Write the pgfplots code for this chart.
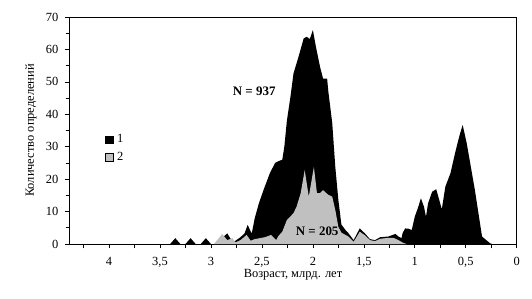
\documentclass[border=0pt]{standalone}
\usepackage{fontspec}
\setmainfont{Liberation Serif}
\usepackage{pgfplots}
\pgfplotsset{compat=1.18}
\definecolor{silv}{HTML}{C0C0C0}
\pgfplotstableread{
x y
4.39 0
3.40 0
3.35 1.8
3.30 0
3.25 0
3.20 1.8
3.15 0
3.10 0
3.05 1.8
3.00 0
2.96 0
2.90 1.5
2.84 3.3
2.79 0.7
2.76 1.0
2.71 2.1
2.67 3.3
2.64 5.9
2.60 3.2
2.57 8
2.53 12.5
2.48 17
2.42 22
2.37 25
2.34 25.5
2.30 26
2.28 30
2.255 38
2.22 45.4
2.19 52.6
2.14 57.8
2.09 63.4
2.06 63.9
2.03 63.2
2.00 66
1.97 60.8
1.93 54.7
1.90 51
1.86 51
1.85 47.5
1.81 37.3
1.78 23.8
1.75 13.6
1.72 6
1.68 4.3
1.65 3.3
1.60 1.2
1.54 4.8
1.49 3.3
1.44 1.5
1.39 1.2
1.34 2.1
1.26 2.3
1.19 3.1
1.16 2.3
1.13 1.8
1.12 3.3
1.095 4.8
1.06 4.7
1.03 4.3
1.00 8.4
0.965 11.5
0.94 14.1
0.91 11.5
0.89 8.4
0.87 12.5
0.83 16.1
0.79 16.9
0.76 13.6
0.735 10.7
0.70 17.7
0.65 21.8
0.605 28
0.56 33.6
0.53 36.7
0.49 31
0.45 23.8
0.41 16.6
0.37 8.4
0.34 2.3
0.31 1.5
0.26 0.2
0.24 0
0 0
}\seriesA
\pgfplotstableread{
x y
2.97 0
2.89 3.1
2.84 1.2
2.79 1.8
2.76 0.5
2.71 1.2
2.65 2.8
2.61 1.0
2.57 1.5
2.52 1.8
2.47 2.1
2.41 2.8
2.36 1.2
2.34 2.4
2.30 3.8
2.255 7.4
2.19 9.5
2.16 11.5
2.12 15.6
2.08 22.8
2.04 14.6
1.99 23.8
1.96 15.7
1.93 15.7
1.90 16.6
1.85 15.2
1.81 14.6
1.78 10.5
1.75 5.3
1.72 3.5
1.68 2.8
1.65 2.3
1.60 0.7
1.54 3.8
1.49 2.7
1.44 1.2
1.39 0.9
1.34 1.6
1.26 1.9
1.21 1.9
1.16 1.2
1.11 0.3
1.08 0
}\seriesB
\begin{document}
\begin{tikzpicture}
\useasboundingbox (-69.3bp,-55bp) rectangle (462.7bp,244bp);
\begin{axis}[
  name=ax, scale only axis, width=447.4bp, height=227bp,
  x dir=reverse, xmin=0, xmax=4.39, ymin=0, ymax=70,
  xtick={0,0.25,...,4.25},
  xticklabels={0,,{0,5},,1,,{1,5},,2,,{2,5},,3,,{3,5},,4,},
  ytick={0,10,...,70}, minor ytick={5,15,...,65},
  tick align=outside, xtick pos=bottom, ytick pos=left,
  major tick length=4.5bp, minor tick length=3bp,
  tick style={black, line width=0.6pt},
  axis line style={line width=0.8pt},
  /pgf/number format/assume math mode=true,
  tick label style={font=\fontsize{12.5}{14}\selectfont},
  xticklabel style={yshift=-5bp},
  yticklabel style={xshift=-3bp},
  label style={font=\fontsize{12.5}{14}\selectfont},
  xlabel={Возраст, млрд. лет}, ylabel={Количество определений},
  xlabel style={at={(axis description cs:0.5,-0.134)}, anchor=center},
  ylabel style={at={(axis description cs:-0.086,0.5)}, anchor=center},
  legend style={draw=none, fill=none, at={(axis description cs:0.073,0.50)}, anchor=north west,
    font=\fontsize{12.5}{14}\selectfont, row sep=4bp,
    nodes={inner xsep=4bp}},
  legend cell align=left,
  legend image code/.code={\draw[#1, draw=black, line width=0.4pt] (0bp,-3.7bp) rectangle (7.5bp,3.7bp);},
]
\addplot[fill=black, draw=none] table[x=x,y=y] {\seriesA} \closedcycle;
\addlegendentry{1}
\addplot[fill=silv, draw=none] table[x=x,y=y] {\seriesB} \closedcycle;
\addlegendentry{2}
\node[font=\bfseries\fontsize{13}{15}\selectfont] at (axis cs:2.576,47.2) {N = 937};
\node[font=\bfseries\fontsize{13}{15}\selectfont] at (axis cs:1.958,4) {N = 205};
\end{axis}
\end{tikzpicture}
\end{document}
